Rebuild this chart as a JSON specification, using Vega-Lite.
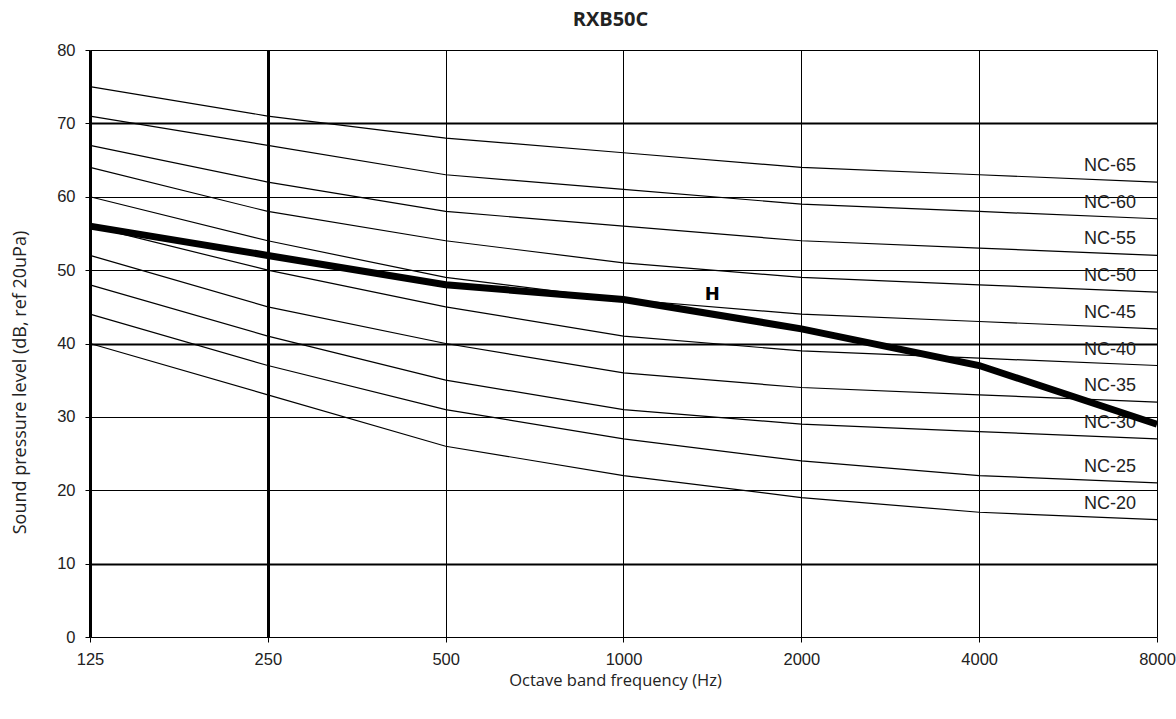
{
  "$schema": "https://vega.github.io/schema/vega-lite/v6.json",
  "width": 1067,
  "height": 587,
  "autosize": {"type": "none"},
  "padding": {"left": 90, "top": 50, "right": 19, "bottom": 82},
  "background": "white",
  "title": {"text": "RXB50C", "font": "Open Sans", "fontWeight": "bold", "fontSize": 20, "color": "#222", "anchor": "middle", "dx": -13, "offset": 12},
  "config": {
    "view": {"stroke": null},
    "axis": {"labelFont": "Liberation Sans", "labelFontSize": 16.5, "labelColor": "#222", "titleFont": "Open Sans", "titleFontSize": 18, "titleFontWeight": "normal", "titleColor": "#222", "tickColor": "#000", "gridColor": "#000", "gridOpacity": 1, "domain": false}
  },
  "datasets": {
    "curves": [
      {"series": "NC-20", "freq": 125, "level": 40}, {"series": "NC-20", "freq": 250, "level": 33}, {"series": "NC-20", "freq": 500, "level": 26}, {"series": "NC-20", "freq": 1000, "level": 22}, {"series": "NC-20", "freq": 2000, "level": 19}, {"series": "NC-20", "freq": 4000, "level": 17}, {"series": "NC-20", "freq": 8000, "level": 16},
      {"series": "NC-25", "freq": 125, "level": 44}, {"series": "NC-25", "freq": 250, "level": 37}, {"series": "NC-25", "freq": 500, "level": 31}, {"series": "NC-25", "freq": 1000, "level": 27}, {"series": "NC-25", "freq": 2000, "level": 24}, {"series": "NC-25", "freq": 4000, "level": 22}, {"series": "NC-25", "freq": 8000, "level": 21},
      {"series": "NC-30", "freq": 125, "level": 48}, {"series": "NC-30", "freq": 250, "level": 41}, {"series": "NC-30", "freq": 500, "level": 35}, {"series": "NC-30", "freq": 1000, "level": 31}, {"series": "NC-30", "freq": 2000, "level": 29}, {"series": "NC-30", "freq": 4000, "level": 28}, {"series": "NC-30", "freq": 8000, "level": 27},
      {"series": "NC-35", "freq": 125, "level": 52}, {"series": "NC-35", "freq": 250, "level": 45}, {"series": "NC-35", "freq": 500, "level": 40}, {"series": "NC-35", "freq": 1000, "level": 36}, {"series": "NC-35", "freq": 2000, "level": 34}, {"series": "NC-35", "freq": 4000, "level": 33}, {"series": "NC-35", "freq": 8000, "level": 32},
      {"series": "NC-40", "freq": 125, "level": 56}, {"series": "NC-40", "freq": 250, "level": 50}, {"series": "NC-40", "freq": 500, "level": 45}, {"series": "NC-40", "freq": 1000, "level": 41}, {"series": "NC-40", "freq": 2000, "level": 39}, {"series": "NC-40", "freq": 4000, "level": 38}, {"series": "NC-40", "freq": 8000, "level": 37},
      {"series": "NC-45", "freq": 125, "level": 60}, {"series": "NC-45", "freq": 250, "level": 54}, {"series": "NC-45", "freq": 500, "level": 49}, {"series": "NC-45", "freq": 1000, "level": 46}, {"series": "NC-45", "freq": 2000, "level": 44}, {"series": "NC-45", "freq": 4000, "level": 43}, {"series": "NC-45", "freq": 8000, "level": 42},
      {"series": "NC-50", "freq": 125, "level": 64}, {"series": "NC-50", "freq": 250, "level": 58}, {"series": "NC-50", "freq": 500, "level": 54}, {"series": "NC-50", "freq": 1000, "level": 51}, {"series": "NC-50", "freq": 2000, "level": 49}, {"series": "NC-50", "freq": 4000, "level": 48}, {"series": "NC-50", "freq": 8000, "level": 47},
      {"series": "NC-55", "freq": 125, "level": 67}, {"series": "NC-55", "freq": 250, "level": 62}, {"series": "NC-55", "freq": 500, "level": 58}, {"series": "NC-55", "freq": 1000, "level": 56}, {"series": "NC-55", "freq": 2000, "level": 54}, {"series": "NC-55", "freq": 4000, "level": 53}, {"series": "NC-55", "freq": 8000, "level": 52},
      {"series": "NC-60", "freq": 125, "level": 71}, {"series": "NC-60", "freq": 250, "level": 67}, {"series": "NC-60", "freq": 500, "level": 63}, {"series": "NC-60", "freq": 1000, "level": 61}, {"series": "NC-60", "freq": 2000, "level": 59}, {"series": "NC-60", "freq": 4000, "level": 58}, {"series": "NC-60", "freq": 8000, "level": 57},
      {"series": "NC-65", "freq": 125, "level": 75}, {"series": "NC-65", "freq": 250, "level": 71}, {"series": "NC-65", "freq": 500, "level": 68}, {"series": "NC-65", "freq": 1000, "level": 66}, {"series": "NC-65", "freq": 2000, "level": 64}, {"series": "NC-65", "freq": 4000, "level": 63}, {"series": "NC-65", "freq": 8000, "level": 62}
    ],
    "measured": [
      {"series": "H", "freq": 125, "level": 56}, {"series": "H", "freq": 250, "level": 52}, {"series": "H", "freq": 500, "level": 48}, {"series": "H", "freq": 1000, "level": 46}, {"series": "H", "freq": 2000, "level": 42}, {"series": "H", "freq": 4000, "level": 37}, {"series": "H", "freq": 8000, "level": 29}
    ],
    "marker": [
      {"label": "H", "freq": 1414, "level": 46.6}
    ]
  },
  "layer": [
    {
      "data": {"name": "curves"},
      "mark": {"type": "line", "color": "#000", "strokeWidth": 1.2},
      "encoding": {
        "x": {
          "field": "freq", "type": "quantitative",
          "scale": {"type": "log", "base": 2, "domain": [125, 8000], "nice": false},
          "axis": {
            "values": [125, 250, 500, 1000, 2000, 4000, 8000],
            "labelExpr": "datum.value",
            "labelFlush": false,
            "labelPadding": 9,
            "tickSize": 5,
            "grid": true,
            "gridWidth": {"condition": {"test": "datum.value == 125 || datum.value == 250", "value": 3}, "value": 1},
            "title": "Octave band frequency (Hz)",
            "titleX": 525,
            "titleY": 43,
            "titleBaseline": "middle",
            "titleFontSize": 16.5
          }
        },
        "y": {
          "field": "level", "type": "quantitative",
          "scale": {"domain": [0, 80], "nice": false},
          "axis": {
            "values": [0, 10, 20, 30, 40, 50, 60, 70, 80],
            "tickSize": 5,
            "labelPadding": 10,
            "grid": true,
            "gridWidth": {"condition": {"test": "datum.value == 10 || datum.value == 40 || datum.value == 70", "value": 2.2}, "value": 1},
            "title": "Sound pressure level (dB, ref 20uPa)",
            "titleX": -70,
            "titleY": 332,
            "titleBaseline": "middle"
          }
        },
        "detail": {"field": "series"}
      }
    },
    {
      "data": {"name": "curves"},
      "transform": [{"filter": "datum.freq == 8000"}],
      "mark": {"type": "text", "font": "Liberation Sans", "fontSize": 18, "color": "#222", "align": "center", "baseline": "middle", "dx": -47, "dy": -16},
      "encoding": {
        "x": {"field": "freq", "type": "quantitative"},
        "y": {"field": "level", "type": "quantitative"},
        "text": {"field": "series"}
      }
    },
    {
      "data": {"name": "measured"},
      "mark": {"type": "line", "color": "#000", "strokeWidth": 7},
      "encoding": {
        "x": {"field": "freq", "type": "quantitative"},
        "y": {"field": "level", "type": "quantitative"}
      }
    },
    {
      "data": {"name": "marker"},
      "mark": {"type": "text", "font": "DejaVu Sans", "fontWeight": "bold", "fontSize": 18, "color": "#000", "align": "center", "baseline": "middle"},
      "encoding": {
        "x": {"field": "freq", "type": "quantitative"},
        "y": {"field": "level", "type": "quantitative"},
        "text": {"field": "label"}
      }
    }
  ]
}
